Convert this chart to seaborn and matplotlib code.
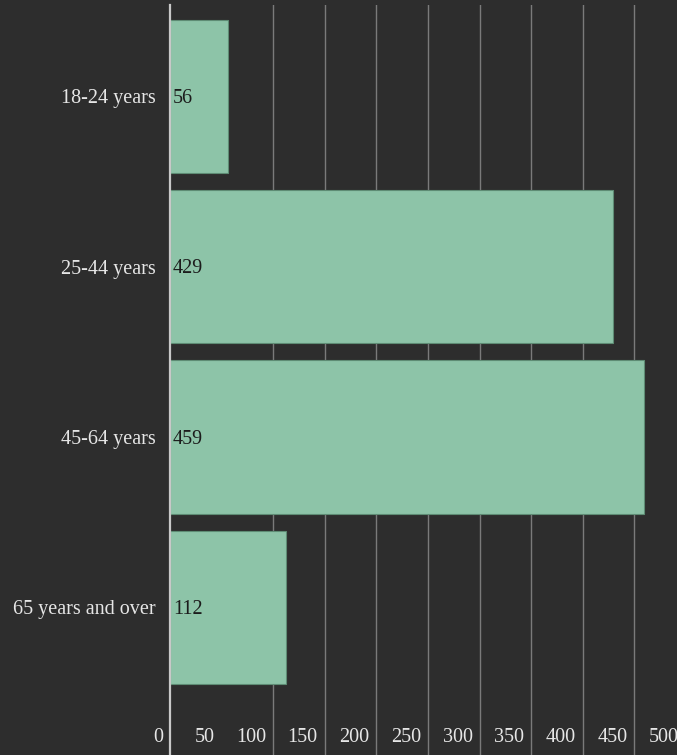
import matplotlib
matplotlib.use("Agg")
import matplotlib.pyplot as plt
import matplotlib.transforms as mtransforms
import seaborn as sns
import pandas as pd

age_groups = ["18-24 years", "25-44 years", "45-64 years", "65 years and over"]
counts = [56, 429, 459, 112]
x_ticks = [0, 50, 100, 150, 200, 250, 300, 350, 400, 450, 500]
grid_values = [100, 150, 200, 250, 300, 350, 400, 450, 500]

bg = "#2d2d2d"
bar_color = "#8dc4a8"

plt.rcParams["font.family"] = ["Liberation Serif", "DejaVu Serif"]
plt.rcParams["font.size"] = 14.5

df = pd.DataFrame({"group": age_groups, "count": counts})

fig = plt.figure(figsize=(6.77, 7.55), dpi=100, facecolor=bg)
ax = fig.add_axes([170 / 677, 0.0, 516 / 677, 750 / 755])
ax.set_facecolor(bg)

# grid lines (none at 50 in the original)
for g in grid_values:
    ax.axvline(g, color="#7a7a7a", linewidth=1.0, zorder=0)

sns.barplot(
    data=df,
    x="count",
    y="group",
    orient="h",
    color=bar_color,
    saturation=1,
    width=0.9,
    edgecolor="#5e8c74",
    linewidth=0.8,
    ax=ax,
    zorder=2,
)

for i, v in enumerate(counts):
    ax.annotate(str(v), xy=(0, i), xytext=(3, -2), textcoords="offset pixels",
                ha="left", va="center", color="#1c1c1c", fontsize=14.5, zorder=4)

ax.set_xlim(0, 500)
ax.set_ylim(3.867, -0.537)
ax.set_xlabel("")
ax.set_ylabel("")

for s in ["top", "right", "bottom"]:
    ax.spines[s].set_visible(False)
ax.spines["left"].set_color("#c8c8c8")
ax.spines["left"].set_linewidth(1.6)
ax.spines["left"].set_zorder(5)

ax.set_xticks(x_ticks)
ax.set_xticklabels([str(t) for t in x_ticks])
ax.tick_params(axis="x", length=0, pad=0, colors="#e6e6e6", labelsize=14.5)
ax.tick_params(axis="y", length=0, pad=10, colors="#e6e6e6", labelsize=14.5)

# x labels sit inside the plot, right-aligned just left of their tick
offset = mtransforms.ScaledTranslation(-7 / 100, 18 / 100, fig.dpi_scale_trans)
for lab in ax.get_xticklabels():
    lab.set_horizontalalignment("right")
    lab.set_verticalalignment("center")
    lab.set_transform(lab.get_transform() + offset)

fig.savefig("out.png", dpi=100, facecolor=bg)
